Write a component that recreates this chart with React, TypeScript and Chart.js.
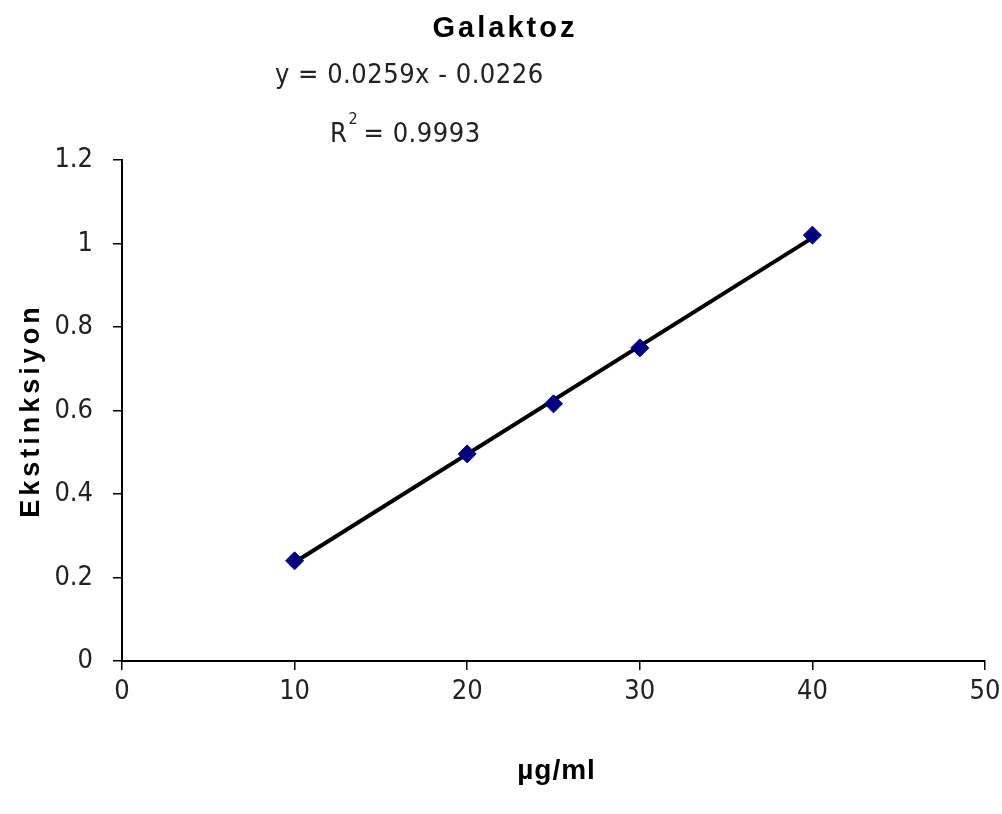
import React, { useEffect, useRef } from "react";
import { Chart, registerables } from "chart.js";

Chart.register(...registerables);

const concentrations = [10, 20, 25, 30, 40];
const absorbances = [0.24, 0.496, 0.616, 0.75, 1.02];
const trendX = [10, 40];
const trendY = [0.2364, 1.0134];
const titleText = "Galaktoz";
const equationText = "y = 0.0259x - 0.0226";
const r2Label = "R";
const r2Value = " = 0.9993";
const xTitle = "µg/ml";
const yTitle = "Ekstinksiyon";

const NARROW = "'Liberation Sans Narrow', 'DejaVu Sans Condensed', 'Liberation Sans', sans-serif";
const BOLD = "'Liberation Sans', Arial, sans-serif";

const textPlugin = {
  id: "textPlugin",
  afterDraw(chart: any) {
    const ctx = chart.ctx as CanvasRenderingContext2D;
    const ca = chart.chartArea;
    ctx.save();
    ctx.fillStyle = "#000";
    // Title
    (ctx as any).letterSpacing = "3px";
    ctx.font = `bold 29px ${BOLD}`;
    ctx.textAlign = "center";
    ctx.textBaseline = "middle";
    ctx.fillText(titleText, 505, 29);
    // Equation
    (ctx as any).letterSpacing = "0.5px";
    ctx.font = `27px ${NARROW}`;
    ctx.fillStyle = "#222";
    ctx.textAlign = "left";
    ctx.fillText(equationText, 275, 76);
    ctx.fillText(r2Label, 330, 135);
    const rw = ctx.measureText(r2Label).width;
    ctx.font = `16px ${NARROW}`;
    ctx.fillText("2", 330 + rw + 1, 120);
    ctx.font = `27px ${NARROW}`;
    ctx.fillText(r2Value, 330 + rw + 8, 135);
    // Axis titles
    ctx.fillStyle = "#000";
    ctx.font = `bold 28px ${BOLD}`;
    (ctx as any).letterSpacing = "1px";
    ctx.textAlign = "center";
    ctx.fillText(xTitle, (ca.left + ca.right) / 2 + 3, 771);
    ctx.translate(32, (ca.top + ca.bottom) / 2);
    ctx.rotate(-Math.PI / 2);
    (ctx as any).letterSpacing = "4px";
    ctx.font = `bold 27px ${BOLD}`;
    ctx.fillText(yTitle, 0, 0);
    ctx.restore();
  },
};

export default function App() {
  const ref = useRef<HTMLCanvasElement | null>(null);
  useEffect(() => {
    if (!ref.current) return;
    const chart = new Chart(ref.current, {
      type: "scatter",
      data: {
        datasets: [
          {
            label: "Data",
            data: concentrations.map((x, i) => ({ x, y: absorbances[i] })),
            pointStyle: "rectRot",
            pointRadius: 9,
            pointBackgroundColor: "#000080",
            pointBorderColor: "#000080",
            showLine: false,
            order: 0,
          },
          {
            label: "Trend",
            data: trendX.map((x, i) => ({ x, y: trendY[i] })),
            showLine: true,
            borderColor: "#000",
            borderWidth: 4,
            pointRadius: 0,
            order: 1,
          },
        ],
      },
      options: {
        animation: false,
        responsive: false,
        layout: { padding: { top: 160, right: 17, left: 0, bottom: 0 } },
        plugins: {
          legend: { display: false },
          title: { display: false },
          tooltip: { enabled: false },
        },
        scales: {
          x: {
            type: "linear",
            min: 0,
            max: 50,
            ticks: {
              stepSize: 10,
              color: "#222",
              font: { family: NARROW, size: 27 },
              padding: 6,
            },
            grid: {
              drawOnChartArea: false,
              color: "#000",
              tickLength: 9,
              lineWidth: 1.5,
            },
            border: { display: true, color: "#000", width: 2 },
            afterFit: (s: any) => {
              s.height = 153;
              s.paddingRight = 0;
              s.paddingLeft = 0;
            },
          },
          y: {
            type: "linear",
            min: 0,
            max: 1.2,
            ticks: {
              stepSize: 0.2,
              color: "#222",
              font: { family: NARROW, size: 27 },
              padding: 20,
              callback: (v: any) => String(Math.round(Number(v) * 10) / 10),
            },
            grid: {
              drawOnChartArea: false,
              color: "#000",
              tickLength: 9,
              lineWidth: 1.5,
            },
            border: { display: true, color: "#000", width: 2 },
            afterFit: (s: any) => {
              s.width = 122;
              s.paddingTop = 0;
              s.paddingBottom = 0;
            },
          },
        },
      },
      plugins: [textPlugin],
    });
    return () => chart.destroy();
  }, []);
  return (
    <div style={{ position: "fixed", left: 0, top: 0, width: 1002, height: 814, background: "#fff" }}>
      <canvas ref={ref} width={1002} height={814} style={{ display: "block", width: 1002, height: 814 }} />
    </div>
  );
}
